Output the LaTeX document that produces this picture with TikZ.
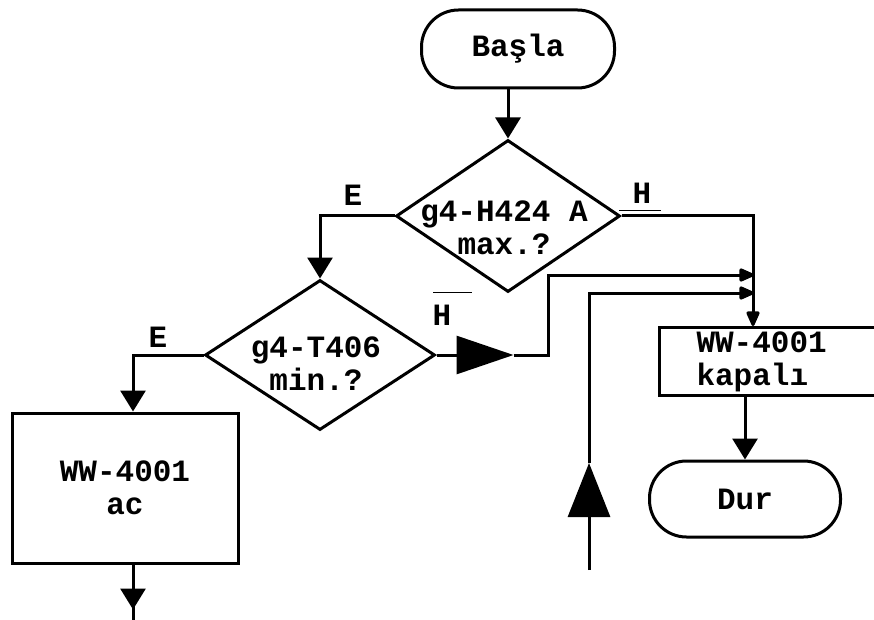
\documentclass[tikz,border=0pt]{standalone}
\usepackage{fontspec}
\setmainfont{Liberation Mono}
\usetikzlibrary{shapes.geometric,arrows.meta,calc}
\begin{document}
\begin{tikzpicture}[x=1pt,y=-1pt,line width=3pt,
  every node/.style={font=\fontsize{31}{33}\selectfont\bfseries},
  term/.style={draw,rounded corners=37pt,inner sep=0pt},
  dec/.style={draw,diamond,inner sep=0pt},
  proc/.style={draw,rectangle,inner sep=0pt,align=center},
  dtext/.style={inner sep=0pt,align=center},
  lbl/.style={inner sep=0pt},
  bar/.style={line width=1pt},
  arr/.style={-{Triangle[length=21pt,width=25pt]}},
  sarr/.style={-{Triangle[length=17pt,width=14pt,round]}},
  big/.style={-{Triangle[length=57pt,width=38pt]}},
  bigup/.style={-{Triangle[length=54pt,width=42pt]}}]
\useasboundingbox (0,0) rectangle (874,620);

% nodes
\node[term,minimum width=193pt,minimum height=78pt] (start) at (518,49) {Başla};
\node[dec,minimum width=224pt,minimum height=152pt] (d1) at (508,216) {};
\node[dtext] (d1t) at (504,228) {g4-H424 A\\max.?};
\node[dec,minimum width=230pt,minimum height=150pt] (d2) at (320,355) {};
\node[dtext] (d2t) at (316,364) {g4-T406\\min.?};
\node[proc,minimum width=226pt,minimum height=150pt] (ac) at (125,488) {WW-4001\\ac};
\node[proc,anchor=north west,minimum width=252pt,minimum height=68pt,
      text width=178pt,inner xsep=37pt,align=left] (k) at (658,326) {WW-4001\\kapalı};
\node[term,minimum width=191pt,minimum height=76pt] (dur) at (745,499) {Dur};

% labels
\node[lbl] (e1) at (353,195) {E};
\node[lbl] (h1) at (642,193) {H};
\draw[bar] ($(h1.south west)+(-12,6)$) -- ($(h1.south east)+(8,6)$);
\node[lbl] (e2) at (158,337) {E};
\node[lbl] (h2) at (442,315) {H};
\draw[bar] ($(h2.north west)+(2,-11)$) -- ($(h2.north east)+(19,-11)$);

% junction coordinates
\coordinate (kin) at ($(k.north west)+(95,0)$);
\coordinate (m1) at ($(kin)+(0,-51)$);
\coordinate (m2) at ($(kin)+(0,-33)$);
\coordinate (t1) at ($(d2.east)+(77,0)$);
\coordinate (src) at (589,570);
\coordinate (t2) at (589,463);
\coordinate (acin) at ($(ac.north)+(8,0)$);
\coordinate (acout) at ($(ac.south)+(8,0)$);

% connectors
\draw[arr] (start.south -| d1.north) -- (d1.north);
\draw[arr] (d1.west) -| (d2.north);
\draw[sarr] (d1.east) -| (kin);
\draw[big] (d2.east) -- (t1);
\draw[sarr] (t1) -- ++(35,0) |- ([xshift=1pt]m1);
\draw[bigup] (src) -- (t2);
\draw[sarr] (t2) |- ([xshift=1pt]m2);
\draw[arr] (d2.west) -| (acin);
\draw (acout) -- ++(0,57);
\draw[arr] (acout) -- ++(0,45);
\draw[arr] (dur.north |- k.south) -- (dur.north);
\end{tikzpicture}
\end{document}
